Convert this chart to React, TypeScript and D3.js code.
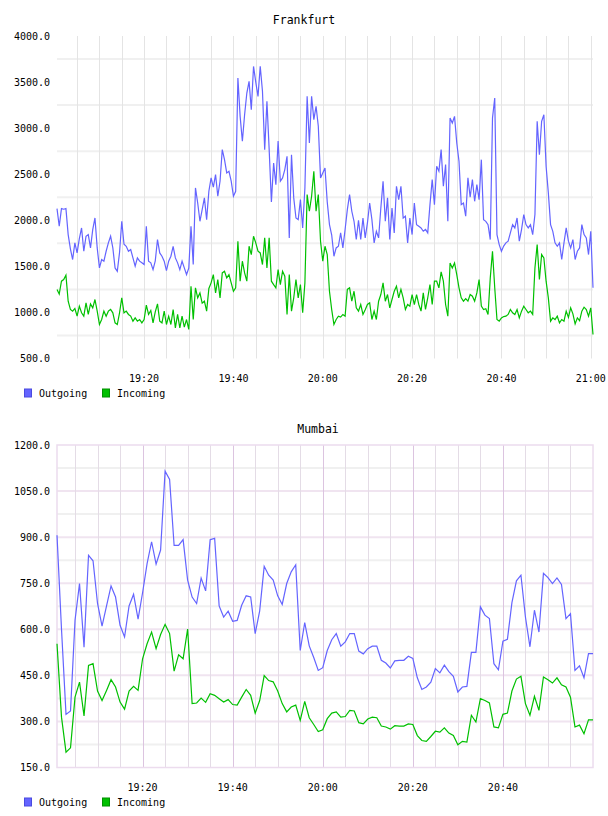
import React from "react";
import * as d3 from "d3";

// Frankfurt, one sample every 30 s starting 19:00:30
const frankfurtOutgoing = [
  2127, 1935, 2127, 2120, 2127, 1845, 1690, 1574, 1755, 1646, 1800, 1917, 1664, 1827, 1845, 1700,
  1899, 2025, 1700, 1483, 1574, 1556, 1664, 1755, 1827, 1700, 1483, 1447, 1650, 1989, 1740, 1718,
  1664, 1682, 1592, 1501, 1592, 1556, 1538, 1520, 1935, 1556, 1538, 1465, 1560, 1791, 1646, 1610,
  1556, 1454, 1556, 1610, 1718, 1592, 1538, 1465, 1556, 1483, 1411, 1480, 1935, 1520,
  2351, 2188, 1989, 2116, 2243, 2007, 2315, 2460, 2360, 2496, 2261, 2424, 2767, 2658, 2514, 2532,
  2424, 2261, 2315, 3544, 3128, 2857, 3146, 3381, 3508, 3200, 3670, 3500, 3345, 3670, 3400, 2767,
  3291, 2767, 2200, 2620, 2387, 2860, 2424, 2460, 2550, 2694, 1809, 2712, 2243, 2025, 2007, 2224,
  1917, 2351, 3345, 2839, 3345, 3092, 3237, 3020, 2460, 2514, 2568, 2200, 1953,
  1840, 1610, 1700, 1718, 1863, 1700, 1900, 2116, 2279, 2098, 1989, 1791, 2000, 1791, 2025, 1809,
  1971, 2188, 2007, 1755, 1881, 1809, 2134, 2424, 1989, 2243, 1791, 2134, 1863, 2369, 2224, 2369,
  2025, 2044, 1755, 2025, 1845, 2188, 1953, 1935, 1917, 1881, 1900, 1863, 2170, 2442, 2170, 2586,
  2532, 2767, 2369, 2604, 1989, 3110, 3056, 3128, 2839, 2640, 2170, 2188,
  2044, 2460, 2250, 2442, 2206, 2387, 2224, 2658, 2007, 1989, 1953, 1791, 3110, 3327, 1845, 1736,
  1664, 1720, 1755, 1773, 1863, 1953, 1917, 2025, 1773, 1899, 2062, 1953, 1917, 1953, 1845, 2062,
  3074, 2712, 3074, 3146, 2586, 2297, 1953, 1880, 1755, 1718, 1755, 1574, 1755, 1917, 1773, 1700,
  1791, 1574, 1664, 1700, 1953, 1845, 1809, 1628, 1881, 1267,
];
const frankfurtIncoming = [
  1250, 1200, 1339, 1357, 1404, 1122, 1032, 1014, 1043, 959, 1068, 996, 959, 1104, 978, 1093,
  1050, 1140, 1014, 869, 923, 1014, 959, 1014, 1032, 996, 887, 869, 996, 1158, 996, 1014,
  978, 960, 905, 941, 905, 923, 887, 923, 1079, 978, 1021, 887, 1007, 1093, 905, 887,
  1014, 869, 959, 869, 1032, 833, 978, 833, 959, 840, 923, 815, 1285, 923,
  1267, 1158, 1212, 1100, 1122, 1014, 1260, 1321, 1411, 1212, 1357, 1158, 1429, 1447, 1375, 1411,
  1321, 1230, 1267, 1773, 1339, 1556, 1429, 1339, 1718, 1628, 1827, 1755, 1664, 1646, 1520, 1809,
  1483, 1809, 1339, 1302, 1267, 1465, 1302, 1447, 1393, 978, 1411, 1014, 1158, 1357, 1158, 1302,
  996, 1321, 2279, 2098, 2261, 2532, 2098, 2279, 1773, 1556, 1718, 1628, 1230,
  1030, 869, 923, 959, 950, 978, 959, 1250, 1267, 1122, 1230, 1050, 1014, 1086, 978, 1030,
  1086, 1104, 923, 1014, 923, 1122, 1194, 1321, 1122, 1194, 1050, 1140, 1230, 1285, 1158, 1250,
  1158, 1032, 1086, 1068, 1194, 1086, 1194, 1086, 1014, 1212, 1032, 1158, 1302, 1086, 1339, 1339,
  1267, 1440, 1339, 1086, 959, 1537, 1483, 1537, 1411, 1267, 1158, 1122,
  1150, 1122, 1194, 1176, 1122, 1212, 1357, 1068, 1032, 1040, 978, 1375, 1664, 1267, 923, 905,
  941, 955, 959, 978, 1032, 996, 978, 1032, 941, 1014, 1068, 1032, 996, 1014, 978, 1483,
  1736, 1357, 1628, 1592, 1339, 1158, 905, 941, 923, 959, 887, 923, 905, 1014, 946, 1050,
  984, 876, 941, 910, 1014, 1057, 1032, 959, 1050, 761,
];

// Mumbai, one sample a minute starting 19:01
const mumbaiOutgoing = [
  906, 600, 323, 334, 629, 749, 542, 841, 823, 684, 610, 676, 741, 705, 613, 575,
  676, 714, 633, 719, 814, 885, 812, 858, 1115, 1088, 873, 873, 892, 760, 705,
  684, 767, 725, 892, 896, 676, 640, 659, 626, 629, 678, 709, 705, 586, 660,
  805, 776, 760, 709, 681, 749, 787, 810, 531, 622, 546, 508, 466, 475, 531,
  566, 586, 545, 559, 586, 586, 529, 520, 537, 545, 545, 499, 490, 474, 497,
  499, 499, 512, 505, 442, 404, 412, 428, 472, 458, 483, 462, 447, 396, 412,
  414, 525, 525, 673, 646, 635, 488, 468, 561, 567, 687, 758, 776, 640, 543,
  662, 591, 782, 768, 749, 767, 746, 635, 651, 466, 481, 442, 521, 521,
];
const mumbaiIncoming = [
  553, 314, 200, 214, 379, 428, 318, 482, 488, 399, 368, 401, 436, 412, 363, 340,
  399, 414, 401, 504, 553, 591, 537, 583, 616, 586, 464, 517, 504, 601, 358,
  360, 376, 362, 390, 385, 374, 363, 371, 355, 353, 379, 404, 385, 327, 368,
  449, 433, 429, 399, 358, 331, 347, 353, 303, 365, 312, 290, 267, 273, 309,
  327, 331, 314, 316, 336, 334, 296, 292, 308, 314, 312, 285, 282, 275, 286,
  285, 285, 292, 290, 254, 238, 235, 251, 268, 265, 279, 262, 254, 224, 235,
  233, 320, 298, 374, 368, 360, 282, 279, 323, 327, 399, 438, 447, 358, 320,
  382, 336, 445, 436, 425, 442, 419, 412, 379, 282, 288, 260, 305, 305,
];

const frankfurtTicks = ["19:20", "19:40", "20:00", "20:20", "20:40", "21:00"];
const mumbaiTicks = ["19:20", "19:40", "20:00", "20:20", "20:40"];
const seriesNames = ["Outgoing", "Incoming"];
const seriesColors = ["#6464ff", "#00c000"];

const font = "'DejaVu Sans Mono', monospace";
const day = (h: number, m: number, s = 0) => new Date(2020, 0, 1, h, m, s);
const hm = (t: string) => {
  const [h, m] = t.split(":").map(Number);
  return day(h, m);
};

type ChartProps = {
  title: string;
  titleX: number;
  top: number;
  outgoing: number[];
  incoming: number[];
  start: Date;
  stepSec: number;
  end: Date;
  yMin: number;
  yMax: number;
  yStep: number;
  ticks: string[];
  mumbaiStyle?: boolean;
};

const Chart = (p: ChartProps) => {
  const left = 57, right = 593;
  const plotTop = p.top + 36, plotBottom = p.top + 358.5;
  const x = d3.scaleTime().domain([p.start, p.end]).range([left, right]);
  const y = d3.scaleLinear().domain([p.yMin, p.yMax]).range([plotBottom, plotTop]);
  const times = p.outgoing.map((_, i) => new Date(p.start.getTime() + i * p.stepSec * 1000));
  const line = d3.line<number>().x((_, i) => x(times[i])).y((d) => y(d));

  const yTicks = d3.range(p.yMin, p.yMax + 1, p.yStep);
  const yMid = yTicks.slice(0, -1).map((v) => v + p.yStep / 2);
  const minutes = d3.timeMinute.every(5)!.range(p.start, new Date(p.end.getTime() + 1));
  const fmt = d3.format(".1f");

  return (
    <g>
      <text x={p.titleX} y={p.top + 24} textAnchor="middle" fontFamily={font} fontSize={11.5} fill="#000">
        {p.title}
      </text>
      {yMid.map((v) => (
        <line key={"m" + v} x1={left} x2={right} y1={y(v)} y2={y(v)} stroke="#f0f0f0" strokeWidth={2} />
      ))}
      {p.mumbaiStyle &&
        yTicks.slice(1, -1).map((v) => (
          <line key={"t" + v} x1={left} x2={right} y1={y(v)} y2={y(v)} stroke="#f0e4f0" strokeWidth={2} />
        ))}
      {minutes.map((t) => {
        const major = p.mumbaiStyle && t.getMinutes() % 20 === 0;
        if (p.mumbaiStyle && x(t) > right - 1) return null;
        return (
          <line
            key={"v" + t.getTime()}
            x1={Math.round(x(t)) + 0.5}
            x2={Math.round(x(t)) + 0.5}
            y1={plotTop}
            y2={plotBottom}
            stroke={major ? "#dcc4e0" : p.mumbaiStyle ? "#e4dce6" : "#e4e4e4"}
            strokeWidth={1}
          />
        );
      })}
      {p.mumbaiStyle && (
        <rect x={left} y={plotTop} width={right - left} height={plotBottom - plotTop} fill="none" stroke="#ecdcee" strokeWidth={1.5} />
      )}
      <path d={line(p.outgoing) || ""} fill="none" stroke={seriesColors[0]} strokeWidth={1.2} />
      <path d={line(p.incoming) || ""} fill="none" stroke={seriesColors[1]} strokeWidth={1.2} />
      {yTicks.map((v) => (
        <text key={"y" + v} x={50} y={y(v) + 3.5} textAnchor="end" fontFamily={font} fontSize={10} fill="#000">
          {fmt(v)}
        </text>
      ))}
      {p.ticks.map((t) => (
        <text key={"x" + t} x={x(hm(t))} y={plotBottom + 23} textAnchor="middle" fontFamily={font} fontSize={10} fill="#000">
          {t}
        </text>
      ))}
      {seriesNames.map((name, i) => (
        <g key={name} transform={`translate(${24 + i * 78},${plotBottom + 30})`}>
          <rect x={0.5} y={0.5} width={7} height={8} fill={seriesColors[i]} stroke={i ? "#009000" : "#4a4ae0"} />
          <text x={15} y={8} fontFamily={font} fontSize={10} fill="#000">
            {name}
          </text>
        </g>
      ))}
    </g>
  );
};

export default function App() {
  return (
    <svg width={608} height={816} style={{ position: "absolute", left: 0, top: 0, background: "#fff" }}>
      <Chart
        title="Frankfurt"
        titleX={304}
        top={0}
        outgoing={frankfurtOutgoing}
        incoming={frankfurtIncoming}
        start={day(19, 0, 30)}
        stepSec={30}
        end={day(21, 0, 30)}
        yMin={500}
        yMax={4000}
        yStep={500}
        ticks={frankfurtTicks}
      />
      <Chart
        title="Mumbai"
        titleX={318}
        top={409}
        outgoing={mumbaiOutgoing}
        incoming={mumbaiIncoming}
        start={day(19, 1)}
        stepSec={60}
        end={day(21, 0)}
        yMin={150}
        yMax={1200}
        yStep={150}
        ticks={mumbaiTicks}
        mumbaiStyle
      />
    </svg>
  );
}
